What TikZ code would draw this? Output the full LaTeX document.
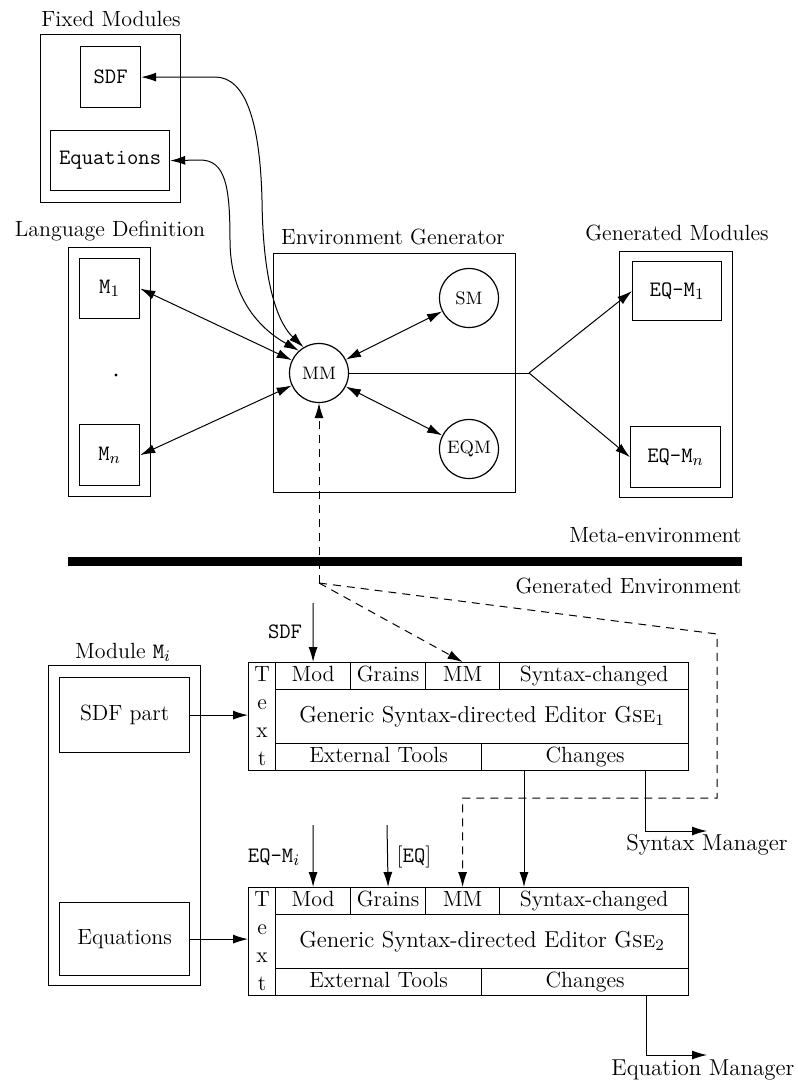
\documentclass[tikz,border=0pt]{standalone}
\usepackage{fontspec}
\usetikzlibrary{arrows.meta}
\newcommand\lblfont{\fontsize{11}{13}\selectfont}
\newcommand\bigfont{\fontsize{11.5}{13}\selectfont}
\newcommand\ttlfont{\fontsize{11}{13}\selectfont\ttfamily}
\newcommand\cirfont{\fontsize{9}{11}\selectfont}
\newcommand\textcol{\fontsize{11}{14}\selectfont}
% rectangle node given by its two corners (pixel units)
\newcommand\pxbox[7][]{%
  \node[box,#1,minimum width={((#5)-(#3))*0.5pt},minimum height={((#6)-(#4))*0.5pt}] (#2) at (#3,#4) {#7};}
% generic syntax-directed editor: prefix, top edge, index
\newcommand\editor[3]{%
  \pxbox[align=center,font=\textcol]{#1text}{248}{#2}{275}{#2+108}{T\\e\\x\\t}
  \pxbox[cell]{#1mod}{275}{#2}{350}{#2+27}{Mod}
  \pxbox[cell]{#1gra}{350}{#2}{425}{#2+27}{Grains}
  \pxbox[cell]{#1mm}{425}{#2}{499}{#2+27}{MM}
  \pxbox[cell]{#1syn}{499}{#2}{688}{#2+27}{Syntax-changed}
  \pxbox[cell,font=\bigfont]{#1body}{275}{#2+27}{688}{#2+81}{Generic Syntax-directed Editor G\textsc{se}$_{#3}$}
  \pxbox[cell]{#1ext}{275}{#2+81}{481}{#2+108}{External Tools}
  \pxbox[cell]{#1chg}{481}{#2+81}{688}{#2+108}{Changes}}
\begin{document}
\begin{tikzpicture}[x=0.5pt,y=-0.5pt,
  every node/.style={inner sep=0pt},
  box/.style={draw,line width=0.6pt,anchor=north west,inner sep=0pt,font=\lblfont},
  cell/.style={text height=8pt,text depth=2.5pt},
  tbox/.style={font=\ttlfont},
  proc/.style={circle,draw,line width=0.6pt,minimum size=29.5pt,font=\cirfont},
  title/.style={anchor=base,font=\lblfont},
  ttitle/.style={anchor=base,font=\ttlfont},
  arr/.style={line width=0.5pt,-{Latex[length=7.5pt,width=4.5pt]}},
  darr/.style={line width=0.5pt,{Latex[length=7.5pt,width=4.5pt]}-{Latex[length=7.5pt,width=4.5pt]}},
  dsh/.style={dash pattern=on 4pt off 3pt}]
\fill[white] (0,0) rectangle (798,1084);
\useasboundingbox (0,0) rectangle (798,1084);

% fixed modules
\node[title] (fmtitle) at (111,26) {Fixed Modules};
\pxbox{fm}{40}{34}{180}{202}{}
\pxbox[tbox]{sdf}{80}{46}{140}{107}{SDF}
\pxbox[tbox]{equ}{50}{130}{169}{190}{Equations}

% language definition
\node[title] (ldtitle) at (110,236) {Language Definition};
\pxbox{ld}{68}{247}{150}{496}{}
\pxbox[tbox]{m1}{79}{258}{139}{318}{M$_1$}
\pxbox[tbox]{mn}{79}{424}{139}{485}{M$_n$}
\node[circle,fill,inner sep=0.6pt] (ldots) at (116,375) {};

% environment generator
\node[title] (egtitle) at (393,244) {Environment Generator};
\pxbox{eg}{273}{253}{515}{492}{}
\node[proc] (MM) at (319,373) {MM};
\node[proc] (SM) at (469,298) {SM};
\node[proc] (EQM) at (469,449) {EQM};

% generated modules
\node[title] (gmtitle) at (677,240) {Generated Modules};
\pxbox{gm}{619}{251}{732}{497}{}
\pxbox[tbox]{eqm1}{632}{261}{721}{320}{EQ-M$_1$}
\pxbox[tbox]{eqmn}{630}{426}{720}{487}{EQ-M$_n$}

% connections of the meta-environment
\draw[darr] (m1.east) -- (MM);
\draw[darr] (mn.east) -- (MM);
\draw[darr] (MM) -- (SM);
\draw[darr] (MM) -- (EQM);
\draw[darr] (sdf.east) -- (215,77) .. controls (245,77) and (260,120) .. (262,200)
  .. controls (263,290) and (280,325) .. (MM.121);
\draw[darr] (equ.east) -- (200,160) .. controls (225,160) and (230,185) .. (230,240)
  .. controls (230,300) and (262,330) .. (MM.132);
\coordinate (br) at (529,373);
\draw[line width=0.5pt] (MM.east) -- (br);
\draw[arr] (br) -- (eqm1.west);
\draw[arr] (br) -- (eqmn.west);

% separation between the two environments
\node[title,anchor=base east] (meta) at (742,542) {Meta-environment};
\fill (68,557) rectangle (742,566);
\node[title,anchor=base east] (genenv) at (742,593) {Generated Environment};

% module M_i
\node[title] (modtitle) at (123,658) {Module \texttt{M}$_i$};
\pxbox{modi}{48}{665}{200}{985}{}
\pxbox{sdfpart}{59}{677}{189}{752}{SDF part}
\pxbox{equpart}{59}{902}{189}{975}{Equations}

% the two generated editors
\editor{g1}{662}{1}
\editor{g2}{887}{2}

% inputs of the editors
\node[ttitle] (sdflbl) at (285,638) {SDF};
\coordinate (sdfin) at (313,603);
\draw[arr] (sdfin) -- (g1mod.north);
\node[ttitle] (eqmlbl) at (274,862) {EQ-M$_i$};
\coordinate (eqmin) at (313,825);
\draw[arr] (eqmin) -- (g2mod.north);
\node[title] (eqlbl) at (414,862) {[\texttt{EQ}]};
\coordinate (eqin) at (387,825);
\draw[arr] (eqin) -- (g2gra.north);
\draw[arr] (sdfpart.east) -- (sdfpart.east -| g1text.west);
\draw[arr] (equpart.east) -- (equpart.east -| g2text.west);
\draw[arr] ([xshift=21.5pt]g1chg.south west) -- ([xshift=12.5pt]g2syn.north west);

% outputs to the managers
\node[title,font=\bigfont] (synmgr) at (707,850) {Syntax Manager};
\coordinate (smtip) at (707,831);
\draw[arr] ([xshift=82pt]g1chg.south west) |- (smtip);
\node[title,font=\bigfont] (eqmgr) at (703,1075) {Equation Manager};
\coordinate (emtip) at (707,1055);
\draw[arr] ([xshift=82.5pt]g2chg.south west) |- (emtip);

% dashed links from the module manager
\coordinate (c1) at (319,583);
\coordinate (c2) at (717,634);
\coordinate (c3) at (717,798);
\draw[arr,dsh] (c1) -- (MM.south);
\draw[arr,dsh] (c1) -- (g1mm.north);
\draw[arr,dsh] (c1) -- (c2) -- (c3) -| (g2mm.north);
\end{tikzpicture}
\end{document}
